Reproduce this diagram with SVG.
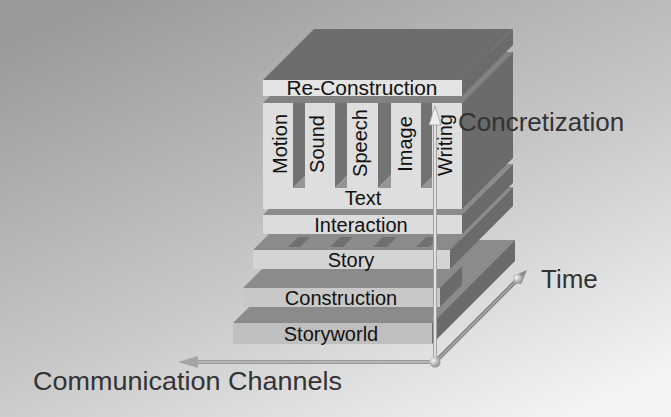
<svg xmlns="http://www.w3.org/2000/svg" width="671" height="417" viewBox="0 0 671 417">
<defs>
<linearGradient id="bg" x1="0.15" y1="0" x2="0.85" y2="1">
<stop offset="0" stop-color="#9a9a9a"/>
<stop offset="0.55" stop-color="#c8c8c8"/>
<stop offset="1" stop-color="#f4f4f4"/>
</linearGradient>
<radialGradient id="ball" cx="0.35" cy="0.35" r="0.7">
<stop offset="0" stop-color="#f4f4f4"/>
<stop offset="1" stop-color="#8a8a8a"/>
</radialGradient>
<style>
.lbl{font-family:"Liberation Sans",Arial,sans-serif;font-size:20px;fill:#111;}
.ax{font-family:"Liberation Sans",Arial,sans-serif;font-size:26px;fill:#333;}
.right{fill:#6b6b6b;}
.top{fill:#8b8b8b;}
.wall{fill:#737373;}
.floor{fill:#959595;}
.stripe{fill:#707070;}
</style>
</defs>
<rect width="671" height="417" fill="url(#bg)"/>

<g id="storyworld">
<polygon class="top" points="233,323 432,323 515,240 316,240"/>
<polygon class="right" points="432,323 432,344 515,261 515,240"/>
<rect x="233" y="323" width="199" height="21" fill="#bfbfbf"/>
<text class="lbl" x="331" y="341" text-anchor="middle">Storyworld</text>
</g>

<g id="construction">
<polygon class="top" points="243,288 440,288 462,266 265,266"/>
<polygon class="right" points="440,288 440,307 462,285 462,266"/>
<rect x="243" y="288" width="197" height="19" fill="#c8c8c8"/>
<text class="lbl" x="341" y="305" text-anchor="middle">Construction</text>
</g>

<g id="story">
<polygon class="top" points="253,250 450,250 513,187 316,187"/>
<polygon class="right" points="450,250 450,269 513,206 513,187"/>
<polygon class="stripe" points="288,247 300,247 310,237 298,237"/>
<polygon class="stripe" points="330,247 343,247 353,237 340,237"/>
<polygon class="stripe" points="373,247 387,247 397,237 383,237"/>
<polygon class="stripe" points="416,247 429,247 439,237 426,237"/>
<rect x="253" y="250" width="197" height="19" fill="#d4d4d4"/>
<text class="lbl" x="351" y="267" text-anchor="middle">Story</text>
</g>

<g id="interaction">
<polygon class="top" points="263,215 462,215 513,164 314,164"/>
<polygon class="right" points="462,215 462,234 513,183 513,164"/>
<rect x="263" y="215" width="199" height="19" fill="#dcdcdc"/>
<text class="lbl" x="361" y="232" text-anchor="middle">Interaction</text>
</g>

<g id="text">
<polygon fill="#828282" points="263,103 462,103 513,52 314,52"/>
<polygon class="right" points="462,103 462,209 513,158 513,52"/>
<rect x="263" y="103" width="199" height="106" fill="#dedede"/>
<polygon class="wall" points="293,103 305,103 305,176 293,188"/>
<polygon class="floor" points="293,188 305,188 305,176"/>
<polygon class="wall" points="335,103 347,103 347,176 335,188"/>
<polygon class="floor" points="335,188 347,188 347,176"/>
<polygon class="wall" points="378,103 391,103 391,175 378,188"/>
<polygon class="floor" points="378,188 391,188 391,175"/>
<polygon class="wall" points="421,103 432,103 432,177 421,188"/>
<polygon class="floor" points="421,188 432,188 432,177"/>
<text class="lbl" x="363" y="205" text-anchor="middle">Text</text>
</g>
<g id="motion"><text class="lbl" text-anchor="middle" transform="translate(287,144) rotate(-90)">Motion</text></g>
<g id="sound"><text class="lbl" text-anchor="middle" transform="translate(324,144) rotate(-90)">Sound</text></g>
<g id="speech"><text class="lbl" text-anchor="middle" transform="translate(367,143) rotate(-90)">Speech</text></g>
<g id="image"><text class="lbl" text-anchor="middle" transform="translate(412,144) rotate(-90)">Image</text></g>
<g id="writing"><text class="lbl" text-anchor="middle" transform="translate(452,145) rotate(-90)">Writing</text></g>

<g id="reconstruction">
<polygon fill="#6d6d6d" points="263,80 462,80 513,29 314,29"/>
<polygon class="right" points="462,80 462,96 513,45 513,29"/>
<rect x="263" y="80" width="199" height="16" fill="#e4e4e4"/>
<text class="lbl" x="362" y="95" text-anchor="middle" font-size="19" textLength="151" lengthAdjust="spacingAndGlyphs">Re-Construction</text>
</g>

<g id="connectors">
<line x1="435" y1="362" x2="196" y2="362" stroke="#9a9a9a" stroke-width="4"/>
<line x1="435" y1="362" x2="196" y2="362" stroke="#d0d0d0" stroke-width="1.2"/>
<polygon points="178,362 198,356 198,368" fill="#a4a4a4"/>
<line x1="435" y1="362" x2="518" y2="279" stroke="#7e7e7e" stroke-width="4"/>
<line x1="435" y1="362" x2="518" y2="279" stroke="#b4b4b4" stroke-width="1.2"/>
<polygon points="527,270 521,284 513,276" fill="#8a8a8a"/>
<circle cx="518" cy="279" r="5" fill="url(#ball)"/>
<line x1="435" y1="362" x2="435" y2="122" stroke="#a0a0a0" stroke-width="4"/>
<line x1="435" y1="362" x2="435" y2="122" stroke="#f2f2f2" stroke-width="1.6"/>
<polygon points="435,106 429,125 441,125" fill="#eeeeee" stroke="#a0a0a0" stroke-width="0.8"/>
<circle cx="435" cy="362" r="5.5" fill="url(#ball)"/>
</g>

<g id="axis-labels">
<text class="ax" x="458" y="131">Concretization</text>
<text class="ax" x="541" y="288">Time</text>
<text class="ax" x="33" y="390" font-size="25" textLength="309" lengthAdjust="spacingAndGlyphs">Communication Channels</text>
</g>
</svg>
